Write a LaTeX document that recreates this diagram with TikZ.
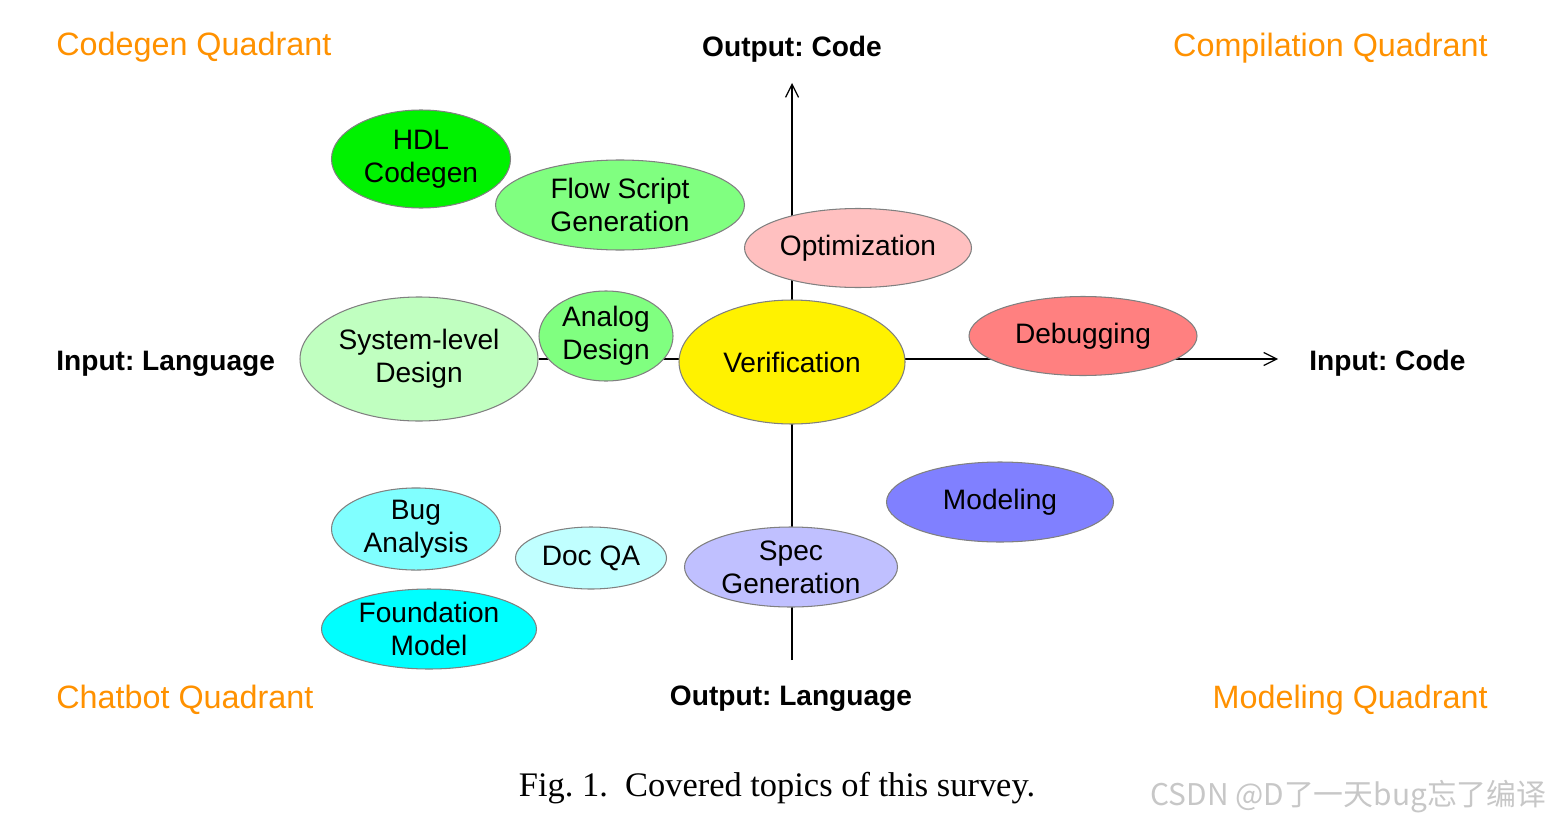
\documentclass[tikz,border=0pt]{standalone}
\usepackage{fontspec}
\setsansfont{Liberation Sans}
\newfontfamily\capfont{Liberation Serif}
\newfontfamily\cjkfont{Noto Sans CJK SC}
\usetikzlibrary{arrows.meta, shapes.geometric, backgrounds}
\frenchspacing
\definecolor{quadorange}{RGB}{255,145,0}
\definecolor{hdlgreen}{RGB}{0,242,0}
\definecolor{midgreen}{RGB}{128,255,128}
\definecolor{palegreen}{RGB}{192,255,192}
\definecolor{optpink}{RGB}{255,192,192}
\definecolor{dbgred}{RGB}{255,128,128}
\definecolor{modblue}{RGB}{128,128,255}
\definecolor{specblue}{RGB}{192,192,255}
\definecolor{bugcyan}{RGB}{128,255,255}
\definecolor{doccyan}{RGB}{192,255,255}
\definecolor{fmcyan}{RGB}{0,255,255}
\tikzset{
  topic/.style={ellipse, draw=black!50, line width=0.6pt, inner sep=0pt,
    align=center, font=\sffamily\fontsize{16}{18.7}\selectfont},
  esize/.style 2 args={minimum width=#1*0.02cm, minimum height=#2*0.02cm},
  axislabel/.style={font=\sffamily\bfseries\fontsize{16}{19}\selectfont,
    anchor=base, inner sep=0pt},
  quadlabel/.style={text=quadorange, font=\sffamily\fontsize{18.4}{21}\selectfont,
    inner sep=0pt},
  axis/.style={line width=0.7pt, -{Straight Barb[length=2.6mm, width=2.6mm]}}
}

\begin{document}
\begin{tikzpicture}[x=0.02cm, y=-0.02cm]
\useasboundingbox (0,0) rectangle (1550,821);
% quadrant names
\node[quadlabel, anchor=base west] (codegenq) at (56,56) {Codegen Quadrant};
\node[quadlabel, anchor=base east] (compq) at (1488,57) {Compilation Quadrant};
\node[quadlabel, anchor=base west] (chatq) at (56,708) {Chatbot Quadrant};
\node[quadlabel, anchor=base east] (modq) at (1488,708) {Modeling Quadrant};
% axis names
\node[axislabel] (outcode) at (792,57) {Output: Code};
\node[axislabel, anchor=base west] (inlang) at (56,370) {Input: Language};
\node[axislabel, anchor=base west] (incode) at (1309,370) {Input: Code};
\node[axislabel] (outlang) at (791,705) {Output: Language};
% topics
\node[topic, esize={179}{98}, fill=hdlgreen] (hdl) at (421,159) {HDL\\Codegen};
\node[topic, esize={249}{90}, fill=midgreen] (flow) at (620,205) {Flow Script\\Generation};
\node[topic, esize={227}{79}, fill=optpink] (opt) at (858,248) {Optimization};
\node[topic, esize={238}{124}, fill=palegreen] (sys) at (419,359) {System-level\\Design};
\node[topic, esize={134}{90}, fill=midgreen] (analog) at (606,336) {Analog\\Design};
\node[topic, esize={226}{124}, fill=yellow] (verif) at (792,362) {Verification};
\node[topic, esize={228}{79}, fill=dbgred] (debug) at (1083,336) {Debugging};
\node[topic, esize={227}{80}, fill=modblue] (model) at (1000,502) {Modeling};
\node[topic, esize={169}{79}, fill=bugcyan] (bug) at (416,529) {Bug\\Analysis};
\node[topic, esize={151}{62}, fill=doccyan] (docqa) at (591,558) {Doc QA};
\node[topic, esize={213}{80}, fill=specblue] (spec) at (791,567) {Spec\\Generation};
\node[topic, esize={215}{80}, fill=fmcyan] (found) at (429,629) {Foundation\\Model};
% axes
\coordinate (vbot) at (792,660);
\coordinate (vtop) at (792,83);
\coordinate (xend) at (1278,359);
\begin{pgfonlayer}{background}
\draw[axis] (vbot) -- (vtop);
\draw[axis] (sys.east) -- (xend);
\end{pgfonlayer}
% caption
\node[font=\capfont\fontsize{19.6}{23}\selectfont, anchor=base, inner sep=0pt] (caption)
  at (777,796) {Fig. 1.\ \ Covered topics of this survey.};
\node[font=\cjkfont\fontsize{17}{20}\selectfont, text=black!22, anchor=base west,
  inner sep=0pt] (mark) at (1150,805) {CSDN @D了一天bug忘了编译};
\end{tikzpicture}
\end{document}
